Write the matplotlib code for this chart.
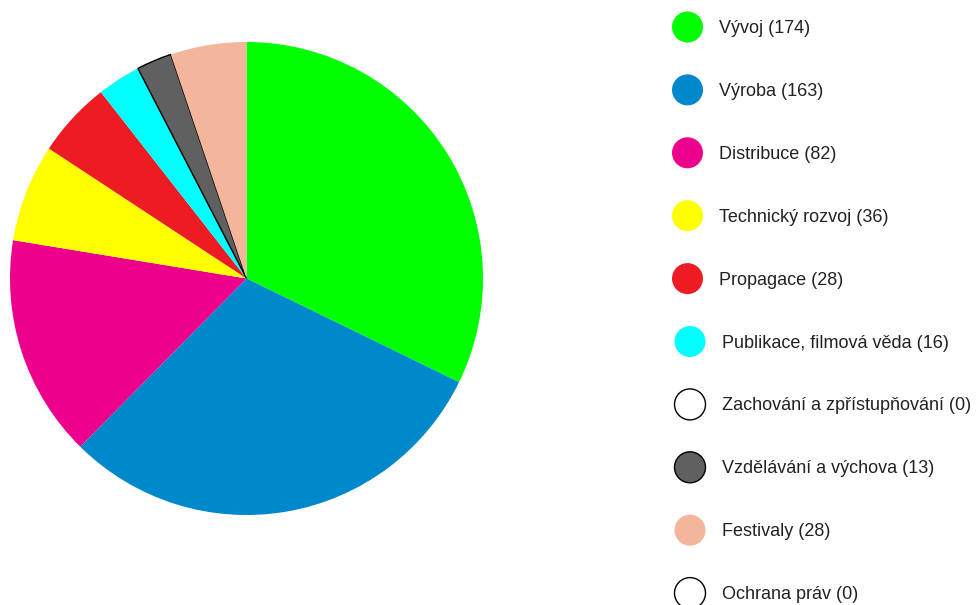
import matplotlib.pyplot as plt
from matplotlib.patches import Circle

plt.rcParams['font.family'] = ['Liberation Sans', 'DejaVu Sans']

labels = ["Vývoj", "Výroba", "Distribuce", "Technický rozvoj", "Propagace",
          "Publikace, filmová věda", "Zachování a zpřístupňování",
          "Vzdělávání a výchova", "Festivaly", "Ochrana práv"]
values = [174, 163, 82, 36, 28, 16, 0, 13, 28, 0]
colors = ["#00ff00", "#0088cc", "#ec008c", "#ffff00", "#ed1c24",
          "#00ffff", "#ffffff", "#606060", "#f3b69a", "#ffffff"]
outlined = [False, False, False, False, False, False, True, True, False, True]

W, H = 978, 605
fig = plt.figure(figsize=(W / 100, H / 100), dpi=100)
ax = fig.add_axes([0, 0, 1, 1])

wedges, _ = ax.pie(values, colors=colors, startangle=90, counterclock=False,
                   center=(246.5, H - 278.5), radius=236.5,
                   wedgeprops=dict(linewidth=0))
for w, v, o in zip(wedges, values, outlined):
    if o and v > 0:
        w.set_edgecolor("black")
        w.set_linewidth(1.0)

# legend drawn by hand, one row per category
row0, step = 27, 62.9
for i, (lab, v, c, o) in enumerate(zip(labels, values, colors, outlined)):
    y = H - (row0 + i * step)
    dx = 0 if i < 5 else 2.5
    ax.add_patch(Circle((687.5 + dx, y), 15.5, facecolor=c,
                        edgecolor="black" if o else "none", linewidth=1.0))
    ax.text(719 + dx, y - 1.5, f"{lab} ({v})", fontsize=13, color="#222222",
            va="center", ha="left")

ax.set_xlim(0, W)
ax.set_ylim(0, H)
ax.set_aspect("equal")
ax.axis("off")

fig.savefig("out.png", dpi=100)
